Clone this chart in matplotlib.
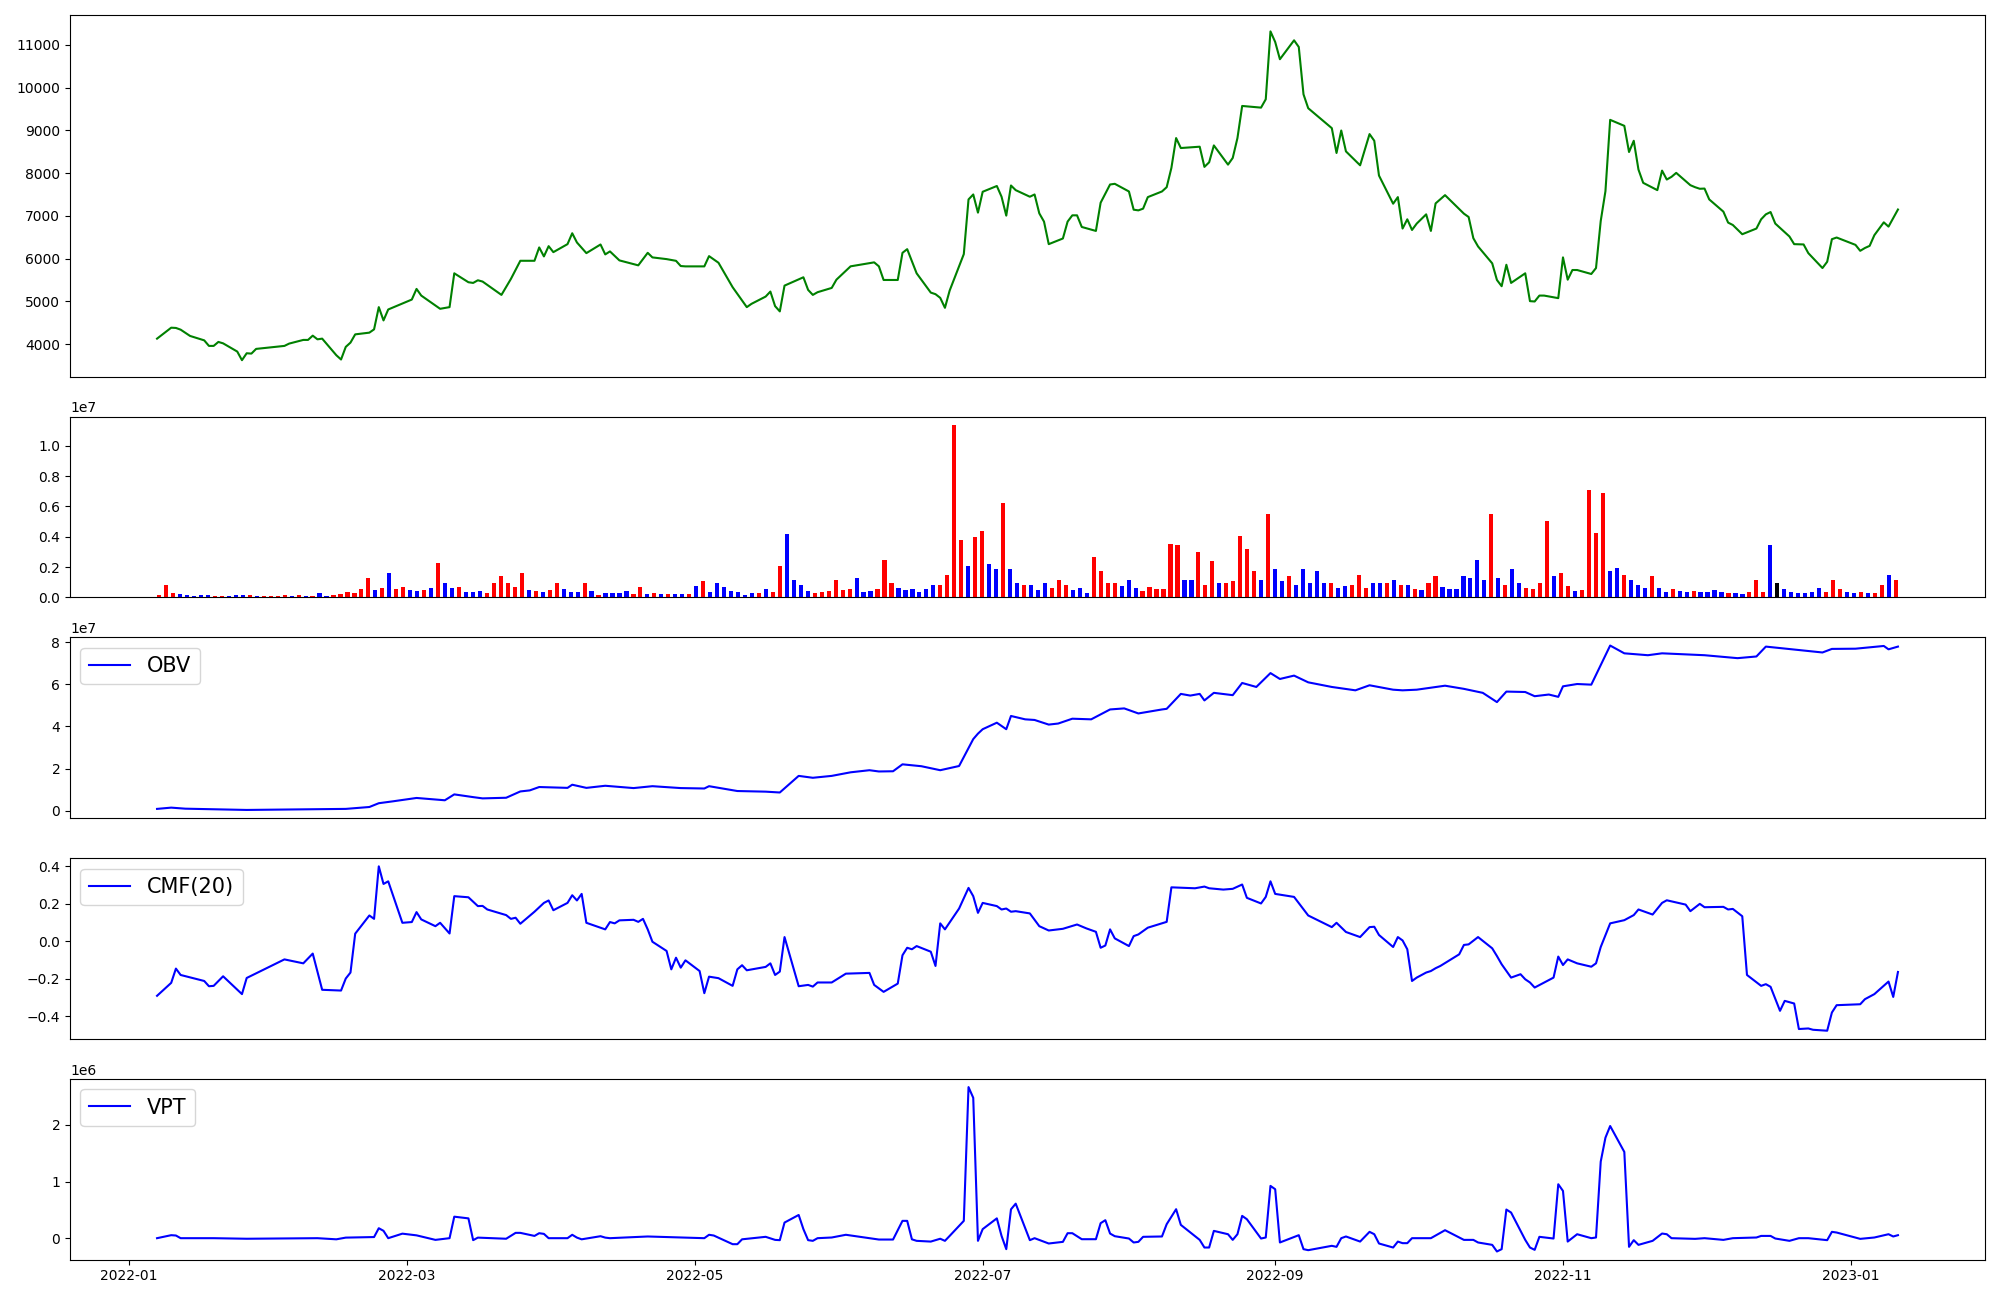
import numpy as np
import matplotlib
matplotlib.use("Agg")
import matplotlib.pyplot as plt

# ---------------- data (day = days since 2022-01-01) ----------------
price_day = [6, 9, 10, 11, 13, 16, 17, 18, 19, 20, 23, 24, 25, 26, 27, 33, 34, 37, 38, 39, 40, 41, 44, 45, 46, 47, 48,
             51, 52, 53, 54, 55, 60, 61, 62, 66, 68, 69, 72, 73, 74, 75, 79, 81, 83, 86, 87, 88, 89, 90, 93, 94, 95, 97,
             100, 101, 102, 104, 108, 110, 111, 114, 116, 117, 118, 122, 123, 125, 128, 130, 131, 132, 135, 136, 137,
             138, 139, 143, 144, 145, 146, 149, 150, 153, 158, 159, 160, 163, 164, 165, 167, 170, 171, 172, 173, 174,
             177, 178, 179, 180, 181, 184, 185, 186, 187, 188, 191, 192, 193, 194, 195, 198, 199, 200, 201, 202, 205,
             206, 208, 209, 212, 213, 214, 215, 216, 219, 220, 221, 222, 223, 227, 228, 229, 230, 233, 234, 235, 236,
             240, 241, 242, 243, 244, 247, 248, 249, 250, 255, 256, 257, 258, 261, 263, 264, 265, 268, 269, 270, 271,
             272, 273, 275, 276, 277, 279, 283, 284, 285, 286, 289, 290, 291, 292, 293, 296, 297, 298, 299, 300, 303,
             304, 305, 306, 307, 310, 311, 312, 313, 314, 317, 318, 319, 320, 321, 324, 325, 326, 327, 328, 331, 332,
             333, 334, 335, 338, 339, 340, 342, 345, 346, 347, 348, 349, 352, 353, 355, 356, 359, 360, 361, 362, 366,
             367, 368, 369, 370, 372, 373, 375]
price_val = [4130, 4386, 4380, 4340, 4193, 4090, 3960, 3960, 4053, 4020, 3828, 3626, 3788, 3780, 3890, 3960, 4014,
             4100, 4100, 4200, 4114, 4130, 3742, 3642, 3937, 4037, 4230, 4270, 4347, 4867, 4556, 4812, 5044, 5293,
             5137, 4828, 4867, 5658, 5449, 5433, 5495, 5465, 5153, 5526, 5951, 5951, 6263, 6053, 6293, 6153, 6340,
             6595, 6379, 6130, 6332, 6100, 6170, 5960, 5844, 6137, 6030, 5990, 5950, 5828, 5820, 5820, 6060, 5905,
             5333, 5021, 4867, 4944, 5114, 5231, 4890, 4767, 5370, 5565, 5270, 5153, 5216, 5316, 5509, 5821, 5914,
             5821, 5502, 5502, 6137, 6223, 5658, 5207, 5170, 5084, 4851, 5254, 6107, 7386, 7502, 7077, 7565, 7700,
             7449, 7007, 7712, 7603, 7449, 7502, 7060, 6867, 6340, 6472, 6867, 7014, 7014, 6742, 6649, 7309, 7735,
             7751, 7572, 7146, 7130, 7170, 7440, 7572, 7672, 8123, 8821, 8588, 8619, 8147, 8254, 8649, 8200, 8356,
             8821, 9572, 9533, 9728, 11316, 11068, 10665, 11107, 10951, 9844, 9519, 9053, 8472, 8998, 8509, 8184,
             8914, 8758, 7944, 7286, 7440, 6705, 6921, 6672, 6821, 7037, 6649, 7293, 7486, 7053, 6975, 6479, 6286,
             5891, 5502, 5356, 5858, 5433, 5658, 5007, 4999, 5137, 5137, 5077, 6030, 5509, 5735, 5735, 5642, 5781,
             6881, 7579, 9247, 9107, 8495, 8758, 8084, 7774, 7603, 8060, 7851, 7914, 8007, 7719, 7672, 7635, 7640,
             7386, 7100, 6844, 6788, 6572, 6705, 6921, 7037, 7091, 6821, 6519, 6340, 6333, 6130, 5781, 5928, 6456,
             6495, 6323, 6184, 6250, 6300, 6550, 6850, 6750, 7150]

# volume, one bar per trading day (millions of shares)
volume_m = [0.13, 0.79, 0.26, 0.20, 0.13, 0.07, 0.13, 0.13, 0.07, 0.07, 0.07, 0.13, 0.13, 0.13, 0.07, 0.07, 0.07,
            0.07, 0.13, 0.07, 0.13, 0.07, 0.07, 0.26, 0.07, 0.13, 0.20, 0.33, 0.26, 0.53, 1.31, 0.46, 0.59, 1.58,
            0.53, 0.66, 0.46, 0.39, 0.46, 0.59, 2.30, 0.98, 0.59, 0.66, 0.33, 0.33, 0.39, 0.26, 0.92, 1.38, 0.92,
            0.66, 1.58, 0.46, 0.39, 0.33, 0.46, 0.98, 0.53, 0.33, 0.33, 0.98, 0.39, 0.13, 0.26, 0.26, 0.26, 0.39,
            0.20, 0.66, 0.20, 0.26, 0.20, 0.20, 0.20, 0.20, 0.20, 0.72, 1.05, 0.33, 0.92, 0.66, 0.39, 0.33, 0.13,
            0.26, 0.26, 0.53, 0.33, 2.10, 4.20, 1.18, 0.79, 0.39, 0.26, 0.33, 0.39, 1.12, 0.46, 0.53, 1.31, 0.33,
            0.39, 0.53, 2.49, 0.92, 0.59, 0.46, 0.53, 0.33, 0.53, 0.85, 0.79, 1.51, 11.36, 3.81, 2.04, 4.00, 4.40,
            2.17, 1.90, 6.24, 1.84, 0.92, 0.85, 0.85, 0.46, 0.98, 0.59, 1.12, 0.85, 0.46, 0.59, 0.26, 2.69, 1.71,
            0.92, 0.92, 0.72, 1.12, 0.59, 0.39, 0.66, 0.53, 0.53, 3.54, 3.48, 1.18, 1.18, 3.02, 0.79, 2.43, 0.98,
            0.92, 1.05, 4.07, 3.22, 1.71, 1.12, 5.51, 1.84, 1.05, 1.44, 0.85, 1.84, 0.92, 1.77, 0.98, 0.98, 0.59,
            0.72, 0.85, 1.51, 0.59, 0.98, 0.98, 0.92, 1.12, 0.79, 0.85, 0.53, 0.46, 0.98, 1.44, 0.66, 0.53, 0.53,
            1.44, 1.25, 2.49, 1.18, 5.51, 1.25, 0.85, 1.84, 0.98, 0.59, 0.53, 0.92, 5.05, 1.44, 1.58, 0.72, 0.39,
            0.46, 7.09, 4.27, 6.89, 1.77, 1.97, 1.51, 1.12, 0.79, 0.59, 1.38, 0.59, 0.33, 0.53, 0.39, 0.33, 0.39,
            0.33, 0.33, 0.46, 0.33, 0.26, 0.26, 0.20, 0.33, 1.12, 0.33, 3.48, 0.92, 0.53, 0.33, 0.26, 0.26, 0.33,
            0.59, 0.33, 1.12, 0.53, 0.33, 0.26, 0.33, 0.26, 0.26, 0.79, 1.51, 1.12]
# 1 = up day, -1 = down day, 0 = unchanged
volume_dir = [1, 1, 1, -1, -1, -1, -1, -1, 1, 1, -1, -1, -1, 1, -1, 1, 1, 1, 1, -1, 1, -1, 1, -1, -1, 1, 1, 1, 1,
              1, 1, -1, 1, -1, 1, 1, -1, -1, 1, -1, 1, -1, -1, 1, -1, -1, -1, 1, 1, 1, 1, 1, 1, -1, 1, -1, 1, 1,
              -1, -1, -1, 1, -1, 1, -1, -1, -1, -1, 1, 1, -1, 1, -1, 1, -1, -1, 1, -1, 1, -1, -1, -1, -1,
              -1, -1, -1, 1, -1, 1, 1, -1, -1, -1, -1, 1, 1, 1, 1, 1, 1, -1, -1, -1, 1, 1, 1, -1, -1, -1, -1, -1,
              -1, 1, 1, 1, 1, -1, 1, 1, -1, -1, 1, -1, -1, 1, -1, -1, -1, 1, 1, 1, -1, -1, -1, 1, 1, 1, 1, -1, -1,
              -1, 1, 1, 1, 1, 1, 1, -1, -1, 1, 1, 1, -1, 1, 1, 1, 1, 1, -1, 1, -1, -1, 1, -1, -1, -1, -1,
              -1, 1, -1, -1, 1, 1, 1, -1, -1, 1, -1, 1, -1, 1, -1, 1, 1, -1, -1, -1, -1, -1, -1, -1, 1, -1, 1, -1,
              -1, 1, 1, 1, 1, -1, 1, 1, -1, 1, 1, 1, 1, -1, -1, 1, -1, -1, -1, 1, -1, -1, 1, -1, -1, 1, -1, -1, -1,
              -1, 1, -1, -1, 1, 1, 1, -1, 0, -1, -1, -1, -1, -1, -1, 1, 1, 1, -1, -1, 1, -1, 1, 1, -1, 1]

obv_day = [6, 9, 12, 25, 46, 51, 53, 56, 61, 67, 69, 73, 75, 80, 83, 85, 87, 93, 94, 97, 101, 107, 111, 117, 122,
           123, 129, 135, 138, 142, 145, 149, 153, 157, 159, 162, 164, 168, 172, 176, 179, 180, 181, 184, 186, 187,
           190, 192, 195, 197, 200, 204, 208, 211, 214, 219, 220, 223, 225, 227, 228, 230, 234, 236, 239, 242, 244,
           247, 250, 255, 260, 263, 268, 270, 273, 279, 283, 287, 290, 292, 296, 298, 301, 303, 304, 307, 310, 314,
           317, 322, 325, 334, 341, 345, 347, 359, 361, 366, 372, 373, 375]
obv_val = [0.08, 0.14, 0.09, 0.03, 0.08, 0.17, 0.35, 0.44, 0.60, 0.49, 0.77, 0.64, 0.58, 0.61, 0.91, 0.96, 1.12,
           1.08, 1.23, 1.08, 1.18, 1.07, 1.16, 1.07, 1.05, 1.16, 0.93, 0.90, 0.86, 1.65, 1.56, 1.65, 1.82, 1.92,
           1.86, 1.87, 2.20, 2.11, 1.92, 2.12, 3.40, 3.66, 3.87, 4.18, 3.87, 4.50, 4.34, 4.31, 4.09, 4.14, 4.37,
           4.34, 4.81, 4.86, 4.62, 4.81, 4.84, 5.55, 5.47, 5.55, 5.24, 5.60, 5.49, 6.07, 5.88, 6.54, 6.26, 6.42,
           6.10, 5.88, 5.72, 5.96, 5.75, 5.72, 5.75, 5.94, 5.79, 5.60, 5.16, 5.66, 5.64, 5.44, 5.52, 5.41, 5.91,
           6.02, 5.99, 7.85, 7.48, 7.39, 7.48, 7.39, 7.25, 7.33, 7.80, 7.52, 7.69, 7.70, 7.83, 7.67, 7.80]  # x1e7

cmf_day = [6, 9, 10, 11, 16, 17, 18, 20, 24, 25, 33, 37, 39, 41, 45, 46, 47, 48, 51, 52, 53, 54, 55, 58, 60, 61,
           62, 65, 66, 68, 69, 72, 74, 75, 76, 80, 81, 82, 83, 86, 88, 89, 90, 93, 94, 95, 96, 97, 101, 102, 103,
           104, 107, 108, 109, 110, 111, 114, 115, 116, 117, 118, 121, 122, 123, 125, 128, 129, 130, 131, 135, 136,
           137, 138, 139, 142, 144, 145, 146, 149, 152, 157, 158, 160, 163, 164, 165, 166, 167, 170, 171, 172, 173,
           176, 178, 179, 180, 181, 184, 185, 186, 187, 188, 191, 193, 195, 198, 201, 203, 205, 206, 207, 208, 209,
           212, 213, 214, 216, 220, 221, 226, 228, 229, 232, 234, 236, 237, 240, 241, 242, 243, 247, 250, 255, 256,
           258, 261, 263, 264, 265, 268, 269, 270, 271, 272, 273, 275, 276, 277, 278, 282, 283, 284, 286, 289, 290,
           291, 293, 295, 296, 297, 298, 302, 303, 304, 305, 307, 310, 311, 312, 314, 317, 319, 320, 323, 325, 326,
           330, 331, 333, 334, 338, 339, 340, 342, 343, 346, 347, 348, 350, 351, 353, 354, 356, 357, 360, 361, 362,
           367, 368, 370, 373, 374, 375]
cmf_val = [-0.290, -0.221, -0.145, -0.179, -0.211, -0.239, -0.237, -0.186, -0.281, -0.195, -0.096, -0.117, -0.065,
           -0.258, -0.262, -0.198, -0.166, 0.041, 0.138, 0.120, 0.400, 0.306, 0.320, 0.099, 0.103, 0.156, 0.117,
           0.081, 0.099, 0.042, 0.241, 0.235, 0.188, 0.189, 0.170, 0.140, 0.120, 0.126, 0.094, 0.158, 0.205, 0.218,
           0.166, 0.205, 0.246, 0.218, 0.253, 0.099, 0.064, 0.103, 0.096, 0.112, 0.115, 0.104, 0.120, 0.064, -0.002,
           -0.051, -0.149, -0.087, -0.140, -0.101, -0.158, -0.276, -0.188, -0.196, -0.237, -0.149, -0.127, -0.154,
           -0.136, -0.117, -0.179, -0.161, 0.023, -0.239, -0.232, -0.241, -0.219, -0.219, -0.172, -0.168, -0.232,
           -0.269, -0.225, -0.074, -0.034, -0.042, -0.025, -0.055, -0.131, 0.096, 0.064, 0.175, 0.285, 0.241, 0.152,
           0.205, 0.188, 0.170, 0.175, 0.158, 0.161, 0.149, 0.081, 0.058, 0.067, 0.090, 0.069, 0.051, -0.034,
           -0.022, 0.064, 0.016, -0.025, 0.028, 0.037, 0.073, 0.104, 0.288, 0.283, 0.292, 0.283, 0.276, 0.280,
           0.303, 0.232, 0.202, 0.237, 0.320, 0.253, 0.237, 0.138, 0.076, 0.099, 0.050, 0.023, 0.076, 0.078, 0.034,
           -0.030, 0.023, 0.005, -0.042, -0.211, -0.193, -0.166, -0.158, -0.143, -0.131, -0.069, -0.019, -0.016,
           0.023, -0.037, -0.078, -0.122, -0.193, -0.175, -0.202, -0.219, -0.246, -0.193, -0.081, -0.126, -0.096,
           -0.117, -0.135, -0.117, -0.030, 0.096, 0.113, 0.140, 0.170, 0.143, 0.205, 0.219, 0.196, 0.161, 0.200,
           0.182, 0.184, 0.170, 0.173, 0.134, -0.179, -0.237, -0.228, -0.242, -0.370, -0.317, -0.331, -0.467, -0.464,
           -0.471, -0.476, -0.379, -0.340, -0.335, -0.308, -0.281, -0.214, -0.296, -0.163]

vpt_day = [6, 9, 10, 11, 18, 25, 40, 44, 46, 52, 53, 54, 55, 58, 61, 65, 68, 69, 72, 73, 74, 80, 82, 83, 86, 87, 88,
           89, 93, 94, 95, 96, 100, 101, 102, 110, 122, 123, 124, 128, 129, 130, 135, 137, 138, 139, 142, 143, 144,
           145, 146, 149, 152, 159, 162, 164, 165, 166, 167, 170, 172, 173, 174, 177, 178, 179, 180, 181, 184, 185,
           186, 187, 188, 191, 192, 195, 198, 199, 200, 202, 205, 206, 207, 208, 209, 212, 213, 214, 215, 219, 220,
           222, 223, 227, 228, 229, 230, 233, 234, 235, 236, 237, 240, 241, 242, 243, 244, 248, 249, 250, 255, 256,
           257, 258, 261, 263, 264, 265, 268, 269, 270, 271, 272, 276, 279, 283, 285, 286, 289, 290, 291, 292, 293,
           296, 297, 298, 299, 302, 303, 304, 305, 307, 310, 311, 312, 313, 314, 317, 318, 319, 320, 323, 325, 326,
           327, 332, 334, 338, 340, 345, 346, 348, 349, 352, 354, 356, 360, 361, 362, 367, 370, 373, 374, 375]
vpt_val = [0, 0.053, 0.047, 0, 0, -0.01, 0, -0.02, 0.01, 0.02, 0.176, 0.13, 0, 0.08, 0.05, -0.03, 0, 0.38, 0.35,
           -0.035, 0.01, -0.01, 0.094, 0.094, 0.04, 0.088, 0.076, 0, 0, 0.06, 0.01, -0.02, 0.035, 0.01, 0, 0.03, 0,
           0.06, 0.047, -0.106, -0.106, -0.02, 0.024, -0.03, -0.035, 0.276, 0.41, 0.16, -0.035, -0.047, 0, 0.012,
           0.06, -0.024, -0.024, 0.306, 0.306, -0.02, -0.047, -0.06, -0.01, -0.047, 0.04, 0.306, 2.67, 2.48, -0.047,
           0.16, 0.35, 0.04, -0.194, 0.51, 0.61, -0.035, 0, -0.094, -0.065, 0.088, 0.088, -0.018, -0.018, 0.265,
           0.318, 0.082, 0.035, -0.006, -0.076, -0.065, 0.024, 0.03, 0.247, 0.512, 0.235, -0.03, -0.165, -0.165,
           0.129, 0.07, -0.03, 0.07, 0.394, 0.335, -0.006, 0.012, 0.924, 0.865, -0.076, 0.053, -0.194, -0.212,
           -0.135, -0.153, 0, 0.03, -0.06, 0.112, 0.07, -0.094, -0.165, -0.06, -0.088, -0.088, 0, 0, 0.141, -0.03,
           -0.03, -0.076, -0.118, -0.235, -0.194, 0.506, 0.453, -0.03, -0.165, -0.206, 0.024, -0.006, 0.953, 0.835,
           -0.06, 0.07, 0, 0.012, 1.353, 1.776, 1.982, 1.524, -0.153, -0.035, -0.118, -0.047, 0.082, 0.07, 0,
           -0.012, 0, -0.03, 0, 0.012, 0.04, 0.04, -0.006, -0.047, 0, 0, -0.035, 0.112, 0.1, -0.012, 0.012, 0.07,
           0.03, 0.053]  # x1e6

# ---------------- helpers ----------------
base = np.datetime64('2022-01-01')


def to_dates(days):
    return base + np.array(days, dtype='timedelta64[D]')


dir_colors = {1: 'red', -1: 'blue', 0: 'black'}

# ---------------- figure ----------------
fig = plt.figure(figsize=(20, 13), dpi=100)
gs = fig.add_gridspec(5, 1, height_ratios=[2, 1, 1, 1, 1], left=0.035, right=0.9925,
                      top=0.9885, bottom=0.031, hspace=0.184)
ax1 = fig.add_subplot(gs[0])
ax2 = fig.add_subplot(gs[1])
ax3 = fig.add_subplot(gs[2], sharex=ax1)
ax4 = fig.add_subplot(gs[3], sharex=ax1)
ax5 = fig.add_subplot(gs[4], sharex=ax1)

ax1.plot(to_dates(price_day), price_val, color='green', linewidth=1.5)

vol = np.array(volume_m) * 1e6
idx = np.arange(len(vol))
ax2.bar(idx, vol, width=0.6, color=[dir_colors[d] for d in volume_dir])

ax3.plot(to_dates(obv_day), np.array(obv_val) * 1e7, color='blue', linewidth=1.5, label='OBV')
ax3.legend(loc='upper left', fontsize=15)

ax4.plot(to_dates(cmf_day), cmf_val, color='blue', linewidth=1.5, label='CMF(20)')
ax4.legend(loc='upper left', fontsize=15)

ax5.plot(to_dates(vpt_day), np.array(vpt_val) * 1e6, color='blue', linewidth=1.5, label='VPT')
ax5.legend(loc='upper left', fontsize=15)

for ax in (ax1, ax2, ax3, ax4):
    ax.tick_params(axis='x', which='both', bottom=False, labelbottom=False)

fig.savefig('out.png', dpi=100)
